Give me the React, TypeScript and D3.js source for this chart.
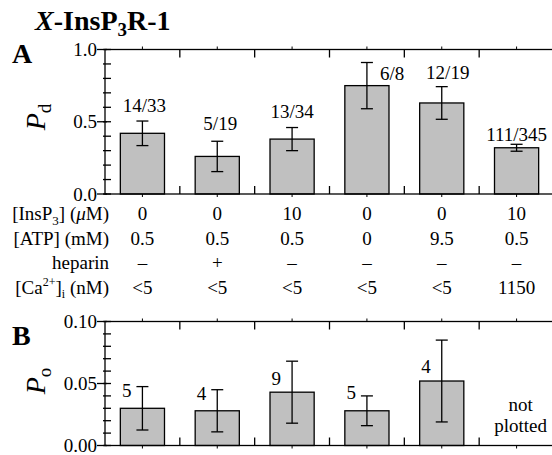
import React from 'react';
import * as d3 from 'd3';

// conditions (columns)
const conditions = ['c1', 'c2', 'c3', 'c4', 'c5', 'c6'];
const insp3Row = ['0', '0', '10', '0', '0', '10'];
const atpRow = ['0.5', '0.5', '0.5', '0', '9.5', '0.5'];
const heparinRow = ['\u2013', '+', '\u2013', '\u2013', '\u2013', '\u2013'];
const calciumRow = ['<5', '<5', '<5', '<5', '<5', '1150'];

// panel A: Pd
const pdMean = [0.42, 0.26, 0.38, 0.75, 0.63, 0.32];
const pdErr = [0.085, 0.105, 0.08, 0.16, 0.113, 0.024];
const pdCounts = ['14/33', '5/19', '13/34', '6/8', '12/19', '111/345'];

// panel B: Po (last one not plotted)
const poMean = [0.03, 0.028, 0.043, 0.028, 0.052, null];
const poErr = [0.0175, 0.017, 0.025, 0.012, 0.033, null];
const poCounts = ['5', '4', '9', '5', '4', ''];

// label layout
const pdLabelPlace = [
  { anchor: 'middle', dx: 2, dy: -9 },
  { anchor: 'middle', dx: 3, dy: -11 },
  { anchor: 'middle', dx: 0, dy: -10 },
  { anchor: 'start', dx: 13, dy: 17 },
  { anchor: 'middle', dx: 6, dy: -8 },
  { anchor: 'middle', dx: 0, dy: -3 },
];
const poLabelDy = [-11, -11, -7, -12, -8];

const W = 552;
const H = 455;
const tx = { fontFamily: "'Liberation Serif'" };
const fs = 19;
const sw = 1.3;

const x = d3
  .scaleBand()
  .domain(conditions)
  .range([105, 554])
  .paddingInner(0.41)
  .paddingOuter(0.205);

function Panel({ top, bottom, max, majors, fmt, means, errs, children }) {
  const y = d3.scaleLinear().domain([0, max]).range([bottom, top]);
  const [x0, x1] = x.range();
  const bw = x.bandwidth();
  const gap = (x.step() - bw) / 2;
  const minors = y.ticks(10);

  return (
    <g>
      {means.map((m, i) =>
        m == null ? null : (
          <g key={i}>
            <rect
              x={x(conditions[i])}
              y={y(m)}
              width={bw}
              height={y(0) - y(m)}
              fill="#c0c0c0"
              stroke="#000"
              strokeWidth={sw}
            />
            <line x1={x(conditions[i]) + bw / 2} x2={x(conditions[i]) + bw / 2}
              y1={y(m - errs[i])} y2={y(m + errs[i])} stroke="#000" strokeWidth={sw} />
            <line x1={x(conditions[i]) + bw / 2 - 6} x2={x(conditions[i]) + bw / 2 + 6}
              y1={y(m + errs[i])} y2={y(m + errs[i])} stroke="#000" strokeWidth={sw} />
            <line x1={x(conditions[i]) + bw / 2 - 6} x2={x(conditions[i]) + bw / 2 + 6}
              y1={y(m - errs[i])} y2={y(m - errs[i])} stroke="#000" strokeWidth={sw} />
          </g>
        )
      )}
      <rect x={x0} y={top} width={x1 - x0} height={bottom - top} fill="none" stroke="#000" strokeWidth={sw} />
      {/* category boundary ticks */}
      {conditions.slice(1).map((c) => {
        const bx = x(c) - gap;
        return (
          <g key={c}>
            <line x1={bx} x2={bx} y1={top} y2={top + 8} stroke="#000" strokeWidth={sw} />
            <line x1={bx} x2={bx} y1={bottom} y2={bottom - 8} stroke="#000" strokeWidth={sw} />
          </g>
        );
      })}
      {conditions.map((c) => {
        const cx = x(c) + bw / 2;
        return (
          <g key={c}>
            <line x1={cx} x2={cx} y1={top} y2={top - 3} stroke="#000" strokeWidth={1} />
            <line x1={cx} x2={cx} y1={bottom} y2={bottom + 3} stroke="#000" strokeWidth={1} />
          </g>
        );
      })}
      {/* y axis ticks */}
      {minors.map((t) => (
        <line key={t} x1={x0 - 2} x2={x0 + 6} y1={y(t)} y2={y(t)} stroke="#000" strokeWidth={sw} />
      ))}
      {majors.map((t) => (
        <g key={t}>
          <line x1={x0 - 8} x2={x0 + 2} y1={y(t)} y2={y(t)} stroke="#000" strokeWidth={sw} />
          <text x={x0 - 8} y={y(t)} dy="0.35em" textAnchor="end" fontSize={fs} style={tx}>
            {fmt(t)}
          </text>
        </g>
      ))}
      {children(y)}
    </g>
  );
}

function Row({ label, values, yPos }) {
  return (
    <g>
      <text x={109} y={yPos} textAnchor="end" fontSize={fs} style={tx}>
        {label}
      </text>
      {values.map((v, i) => (
        <text key={i} x={x(conditions[i]) + x.bandwidth() / 2} y={yPos} textAnchor="middle"
          fontSize={fs} style={tx}>
          {v}
        </text>
      ))}
    </g>
  );
}

export default function App() {
  const bw = x.bandwidth();
  return (
    <svg width={W} height={H} style={{ position: 'absolute', left: 0, top: 0 }}>
      <rect width={W} height={H} fill="#fff" />
      <text x={35} y={30} fontSize={28} fontWeight="bold" style={tx}>
        <tspan fontStyle="italic">X</tspan>-InsP
        <tspan dy={6} fontSize={19}>3</tspan>
        <tspan dy={-6}>R-1</tspan>
      </text>
      <text x={12} y={63} fontSize={28} fontWeight="bold" style={tx}>A</text>
      <text x={12} y={345} fontSize={28} fontWeight="bold" style={tx}>B</text>

      <text transform="translate(45,117) rotate(-90)" textAnchor="middle" fontSize={28}
        fontStyle="italic" style={tx}>
        P<tspan fontSize={19} fontStyle="normal" dy={6}>d</tspan>
      </text>
      <text transform="translate(45,381) rotate(-90)" textAnchor="middle" fontSize={28}
        fontStyle="italic" style={tx}>
        P<tspan fontSize={19} fontStyle="normal" dy={6}>o</tspan>
      </text>

      <Panel top={49.5} bottom={194} max={1} majors={[0, 0.5, 1]} fmt={d3.format('.1f')}
        means={pdMean} errs={pdErr}>
        {(y) =>
          pdCounts.map((lab, i) => {
            const p = pdLabelPlace[i];
            const cx = x(conditions[i]) + bw / 2;
            return (
              <text key={i} x={cx + p.dx} y={y(pdMean[i] + pdErr[i]) + p.dy} textAnchor={p.anchor}
                fontSize={fs} style={tx}>
                {lab}
              </text>
            );
          })
        }
      </Panel>

      <Row yPos={220} values={insp3Row} label={
        <>[InsP<tspan dy={5} fontSize={13}>3</tspan><tspan dy={-5}>] (</tspan><tspan fontStyle="italic">μ</tspan>M)</>
      } />
      <Row yPos={245} values={atpRow} label="[ATP] (mM)" />
      <Row yPos={269} values={heparinRow} label="heparin" />
      <Row yPos={294} values={calciumRow} label={
        <>[Ca<tspan dy={-8} fontSize={12}>2+</tspan><tspan dy={8}>]</tspan><tspan dy={4} fontSize={12}>i</tspan><tspan dy={-4}> (nM)</tspan></>
      } />

      <Panel top={321.5} bottom={445.5} max={0.1} majors={[0, 0.05, 0.1]} fmt={d3.format('.2f')}
        means={poMean} errs={poErr}>
        {(y) => (
          <g>
            {poCounts.map((lab, i) =>
              poMean[i] == null ? null : (
                <text key={i} x={x(conditions[i]) + bw / 2 - 11} y={y(poMean[i]) + poLabelDy[i]}
                  textAnchor="end" fontSize={fs} style={tx}>
                  {lab}
                </text>
              )
            )}
            <text x={x(conditions[5]) + bw / 2 + 4} y={411} textAnchor="middle" fontSize={fs} style={tx}>not</text>
            <text x={x(conditions[5]) + bw / 2 + 4} y={432} textAnchor="middle" fontSize={fs} style={tx}>plotted</text>
          </g>
        )}
      </Panel>
    </svg>
  );
}
